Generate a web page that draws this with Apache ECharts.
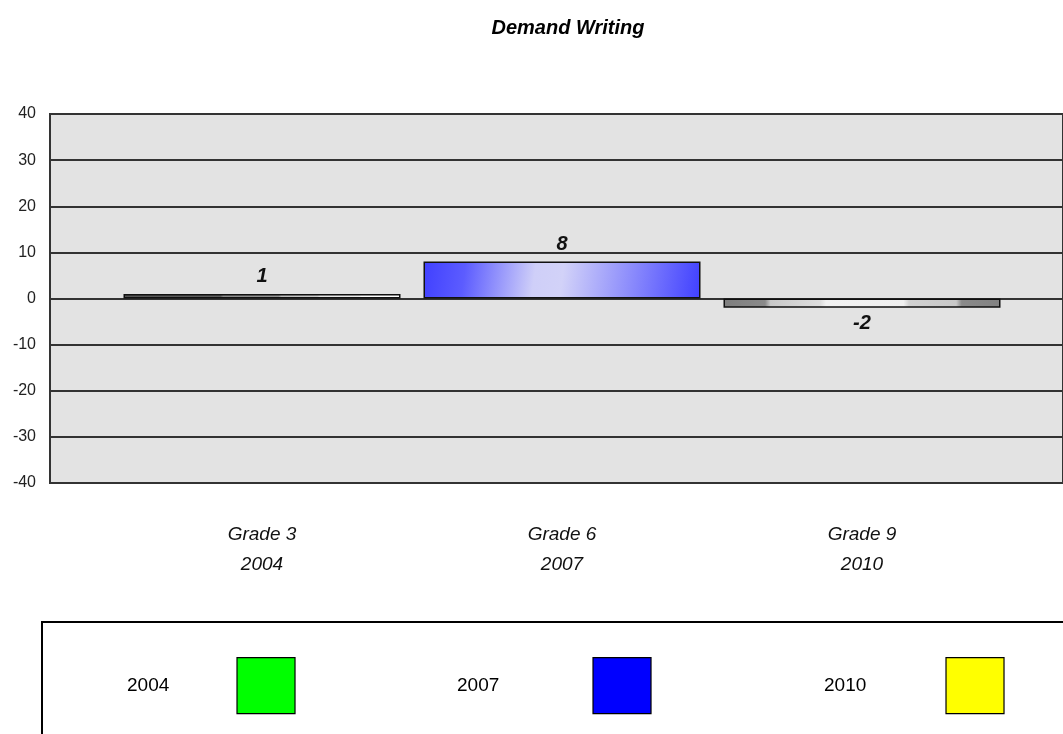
<!DOCTYPE html>
<html>
<head>
<meta charset="utf-8">
<script src="https://cdn.jsdelivr.net/npm/echarts@6/dist/echarts.min.js"></script>
<style>
html,body{margin:0;padding:0;background:#fff;}
#chart{width:1063px;height:734px;}
</style>
</head>
<body>
<div id="chart"></div>
<script>
// ---- data ----
var categories = ['Grade 3\n2004', 'Grade 6\n2007', 'Grade 9\n2010'];
var values = [1, 8, -2];
var seriesNames = ['2004', '2007', '2010'];
var legendColors = ['#00ff00', '#0000ff', '#ffff00'];
var yMin = -40, yMax = 40, yStep = 10;

// ---- styles ----
function grad(x2, y2, stops) {
  return new echarts.graphic.LinearGradient(0, 0, x2, y2, stops.map(function (s) { return { offset: s[0], color: s[1] }; }));
}
var barFills = [
  grad(1, 0, [[0, '#555555'], [0.35, '#5f5f5f'], [0.36, '#8a8a8a'], [0.56, '#949494'], [0.57, '#bdbdbd'], [0.7, '#cfcfcf'], [0.71, '#e6e6e6'], [0.85, '#eeeeee'], [0.86, '#ffffff'], [1, '#ffffff']]),
  grad(1, 1, [[0, '#4040ff'], [0.15, '#5c5cff'], [0.4, '#cfcff8'], [0.5, '#d2d2f8'], [0.75, '#8a8afc'], [1, '#4040ff']]),
  grad(1, 0, [[0, '#7e7e7e'], [0.15, '#8a8a8a'], [0.17, '#c8c8c8'], [0.35, '#dedede'], [0.37, '#f2f2f2'], [0.65, '#efefef'], [0.67, '#d0d0d0'], [0.84, '#c8c8c8'], [0.86, '#8a8a8a'], [1, '#828282']])
];
var legendLefts = [127, 457, 824];
var legendIconLefts = [237, 593, 946];

var series = seriesNames.map(function (name, i) {
  return {
    name: name,
    type: 'bar',
    xAxisIndex: 1,
    yAxisIndex: 1,
    barWidth: 277,
    barGap: '-100%',
    itemStyle: { color: legendColors[i], borderColor: '#000', borderWidth: 1.5 },
    data: categories.map(function (c, j) {
      if (j !== i) return '-';
      var v = values[i];
      return {
        value: v,
        itemStyle: { color: barFills[i], borderColor: '#111', borderWidth: 1.5 },
        label: {
          show: true,
          position: v >= 0 ? 'top' : 'bottom',
          distance: v >= 0 ? 7 : 6,
          fontFamily: 'Liberation Sans',
          fontStyle: 'italic',
          fontWeight: 'bold',
          fontSize: 20,
          color: '#111'
        }
      };
    })
  };
});

var legendFont = 19;
var legends = seriesNames.map(function (name, i) {
  var textW = name.length * legendFont * 0.556;
  return {
    data: [name],
    left: legendLefts[i],
    top: 657,
    padding: 0,
    align: 'right',
    icon: 'rect',
    itemWidth: 58,
    itemHeight: 56,
    selectedMode: false,
    itemStyle: { borderColor: '#000', borderWidth: 1.2 },
    textStyle: {
      fontFamily: 'Liberation Sans', fontSize: legendFont, color: '#000',
      padding: [0, Math.max(0, legendIconLefts[i] - legendLefts[i] - 5 - textW), 0, 0]
    }
  };
});

var chart = echarts.init(document.getElementById('chart'), null, { renderer: 'canvas' });
chart.setOption({
  animation: false,
  backgroundColor: '#fff',
  title: {
    text: 'Demand Writing',
    left: 563,
    textAlign: 'center',
    top: 13,
    textStyle: { fontFamily: 'Liberation Sans', fontStyle: 'italic', fontWeight: 'bold', fontSize: 20, color: '#000' }
  },
  graphic: [{
    type: 'rect',
    z: 0,
    shape: { x: 42, y: 622, width: 1100, height: 200 },
    style: { fill: '#fff', stroke: '#000', lineWidth: 2 }
  }],
  legend: legends,
  grid: [
    { left: 50, top: 114, bottom: 251, right: -40, show: true, backgroundColor: '#e3e3e3', borderColor: '#333', borderWidth: 2 },
    { left: 112, top: 114, bottom: 251, right: 51 }
  ],
  xAxis: [
    { type: 'value', gridIndex: 0, show: false, min: 0, max: 1 },
    {
      type: 'category', gridIndex: 1, data: categories,
      axisLine: { show: false }, axisTick: { show: false },
      axisLabel: { margin: 37, fontFamily: 'Liberation Sans', fontStyle: 'italic', fontSize: 19, lineHeight: 30, color: '#111' }
    }
  ],
  yAxis: [
    {
      type: 'value', gridIndex: 0, min: yMin, max: yMax, interval: yStep,
      axisLine: { show: true, lineStyle: { color: '#333', width: 2 } },
      axisTick: { show: false },
      splitLine: { show: true, lineStyle: { color: '#333', width: 2 } },
      axisLabel: { margin: 14, fontFamily: 'Liberation Sans', fontSize: 16, color: '#222' }
    },
    { type: 'value', gridIndex: 1, min: yMin, max: yMax, interval: yStep, show: false, splitLine: { show: false } }
  ],
  series: series
});
</script>
</body>
</html>
